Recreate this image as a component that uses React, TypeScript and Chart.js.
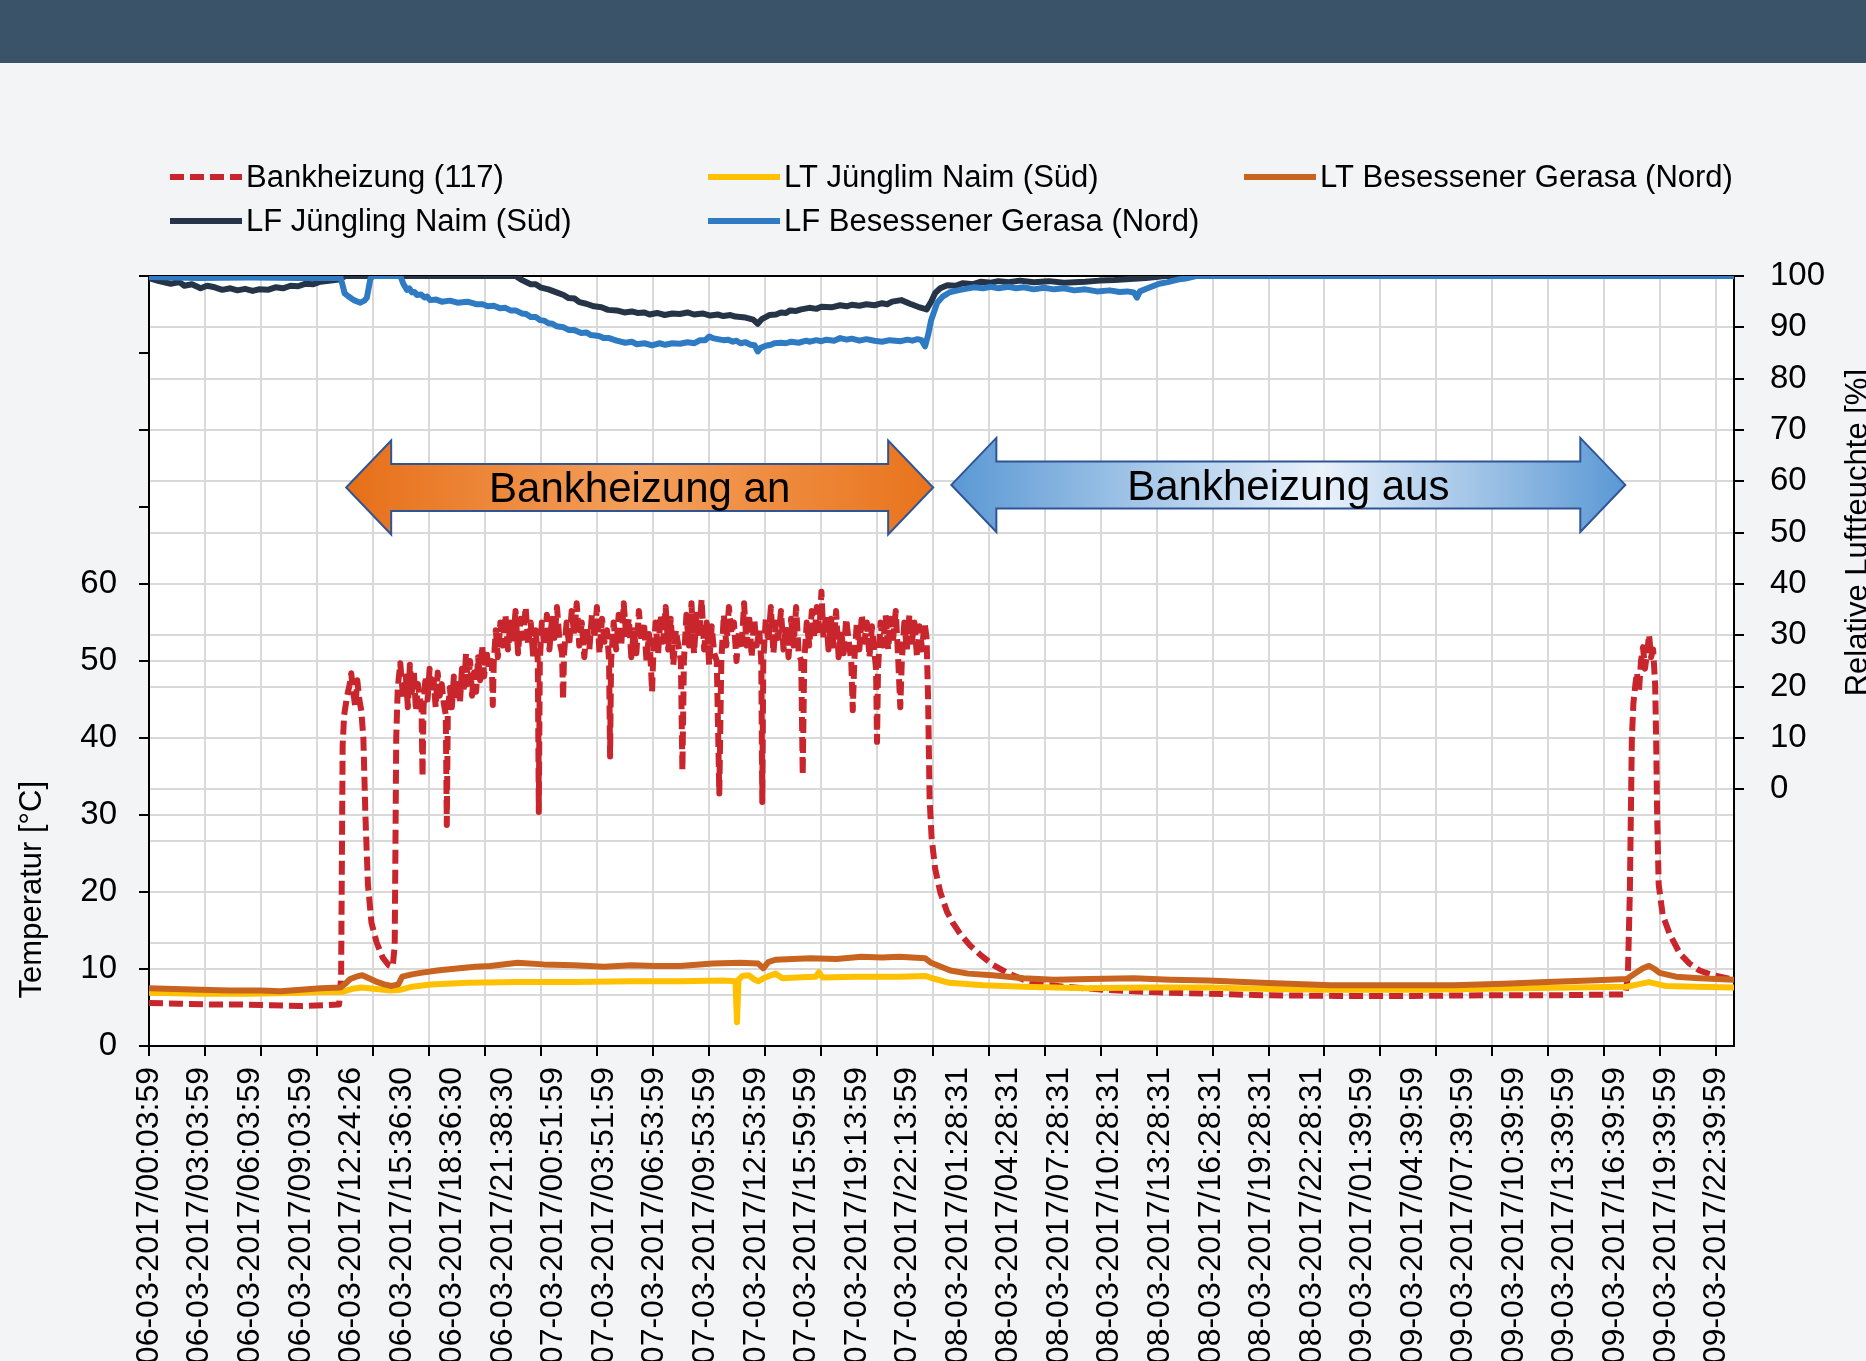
import React, { useEffect, useRef } from "react";
import { Chart, registerables } from "chart.js";

Chart.register(...registerables);

// ---------- DATA ----------
const xLabels = [
  "06-03-2017/00:03:59", "06-03-2017/03:03:59", "06-03-2017/06:03:59", "06-03-2017/09:03:59",
  "06-03-2017/12:24:26", "06-03-2017/15:36:30", "06-03-2017/18:36:30", "06-03-2017/21:38:30",
  "07-03-2017/00:51:59", "07-03-2017/03:51:59", "07-03-2017/06:53:59", "07-03-2017/09:53:59",
  "07-03-2017/12:53:59", "07-03-2017/15:59:59", "07-03-2017/19:13:59", "07-03-2017/22:13:59",
  "08-03-2017/01:28:31", "08-03-2017/04:28:31", "08-03-2017/07:28:31", "08-03-2017/10:28:31",
  "08-03-2017/13:28:31", "08-03-2017/16:28:31", "08-03-2017/19:28:31", "08-03-2017/22:28:31",
  "09-03-2017/01:39:59", "09-03-2017/04:39:59", "09-03-2017/07:39:59", "09-03-2017/10:39:59",
  "09-03-2017/13:39:59", "09-03-2017/16:39:59", "09-03-2017/19:39:59", "09-03-2017/22:39:59",
];
const gridLineCount = 29;
const xMax = 31.35;

const tempTickValues = [0, 10, 20, 30, 40, 50, 60, 70, 80, 90, 100];
const tempLabelMax = 60;
const rhTickValues = [-50, -40, -30, -20, -10, 0, 10, 20, 30, 40, 50, 60, 70, 80, 90, 100];
const rhLabelMin = 0;

const seriesNames = [
  "Bankheizung (117)",
  "LT Jünglim Naim (Süd)",
  "LT Besessener Gerasa (Nord)",
  "LF Jüngling Naim (Süd)",
  "LF Besessener Gerasa (Nord)",
];
const seriesColors = ["#c9252c", "#ffc000", "#c8641f", "#253447", "#2e7bc4"];

// Bankheizung (117) [x position in label units, °C]
const bankheizung: [number, number][] = [
  [0, 5.6], [0.6, 5.5], [1.2, 5.4], [1.8, 5.4], [2.4, 5.3], [3.0, 5.2], [3.5, 5.3], [3.76, 5.4],
  [3.8, 9], [3.83, 39], [3.86, 43], [3.92, 45.5], [3.97, 47], [4.0, 48.4], [4.04, 46], [4.08, 44],
  [4.12, 47.5], [4.16, 45], [4.2, 43.5], [4.24, 40], [4.28, 30], [4.33, 21], [4.4, 16], [4.5, 13.5],
  [4.62, 11.5], [4.74, 10.5], [4.82, 10.3], [4.86, 13], [4.89, 40], [4.92, 46.5],
  [4.97, 49.7], [5.03, 45], [5.08, 48], [5.12, 44], [5.16, 49.5], [5.2, 46], [5.24, 48.5], [5.28, 43.5],
  [5.32, 47], [5.36, 45], [5.39, 44], [5.41, 35], [5.43, 44], [5.47, 48], [5.51, 45], [5.55, 49],
  [5.59, 46], [5.63, 47.5], [5.67, 44], [5.71, 48.5], [5.75, 45.5], [5.79, 47], [5.83, 44.5], [5.87, 43],
  [5.89, 28.7], [5.91, 43], [5.95, 46.5], [5.99, 44], [6.03, 48], [6.07, 45], [6.11, 47.5], [6.15, 44.5],
  [6.19, 49], [6.23, 46], [6.27, 51], [6.31, 47], [6.35, 50], [6.39, 45.5], [6.43, 48.5], [6.47, 46],
  [6.51, 50.5], [6.55, 47.5], [6.59, 52], [6.63, 48], [6.67, 51.5], [6.72, 49], [6.78, 50], [6.8, 44.3],
  [6.82, 50], [6.86, 54], [6.9, 50.5], [6.95, 55],
  [7.0, 52], [7.05, 56], [7.1, 51.5], [7.15, 55], [7.2, 52.5], [7.25, 56.5], [7.3, 51], [7.35, 55.5],
  [7.4, 53], [7.45, 57], [7.5, 52], [7.55, 55], [7.6, 50.5], [7.65, 54], [7.69, 50], [7.71, 30.4],
  [7.73, 50], [7.77, 55], [7.82, 52], [7.87, 56], [7.92, 51.5], [7.97, 55.5], [8.02, 53], [8.07, 57],
  [8.12, 52.5], [8.17, 51], [8.19, 45], [8.21, 51], [8.26, 55], [8.31, 52], [8.36, 56.5], [8.41, 53.5],
  [8.46, 57.5], [8.51, 52], [8.56, 55], [8.61, 50.5], [8.66, 54.5], [8.71, 51.5], [8.76, 56], [8.81, 53],
  [8.86, 57], [8.91, 51], [8.96, 55.5], [9.01, 52.5], [9.06, 54], [9.1, 50], [9.12, 37.6], [9.14, 50],
  [9.19, 55], [9.24, 51.5], [9.29, 56], [9.34, 52], [9.39, 57.5], [9.44, 53], [9.49, 55.5], [9.54, 50.5],
  [9.59, 54], [9.64, 51], [9.69, 56.5], [9.74, 52.5], [9.79, 55], [9.84, 50], [9.89, 53.5], [9.93, 49],
  [9.95, 46], [9.97, 50], [10.02, 55], [10.07, 51], [10.12, 56], [10.17, 52.5], [10.22, 57], [10.27, 51.5],
  [10.32, 55.5], [10.37, 49.5], [10.42, 54], [10.47, 52], [10.52, 50], [10.55, 35.8], [10.58, 50], [10.63, 56],
  [10.68, 52], [10.73, 57.5], [10.78, 51], [10.83, 56], [10.88, 53], [10.93, 58], [10.98, 51.5], [11.03, 55],
  [11.08, 49.5], [11.13, 54.5], [11.18, 51], [11.23, 50], [11.28, 32.8], [11.32, 50], [11.37, 56], [11.42, 52],
  [11.47, 57], [11.52, 53.5], [11.57, 55], [11.62, 50], [11.67, 54], [11.72, 51.5], [11.77, 57.5], [11.82, 52],
  [11.87, 56], [11.92, 50.5], [11.97, 55.5], [12.02, 52], [12.07, 54], [12.11, 50], [12.13, 31.7], [12.15, 50],
  [12.2, 55.5], [12.25, 52.5], [12.3, 57], [12.35, 51], [12.4, 55], [12.45, 53], [12.5, 56.5], [12.55, 51.5],
  [12.6, 54.5], [12.65, 50.5], [12.7, 55.5], [12.75, 52], [12.8, 57], [12.85, 51], [12.9, 50], [12.93, 35.2],
  [12.96, 50], [13.01, 55], [13.06, 52], [13.11, 56.5], [13.16, 53], [13.21, 57], [13.26, 54], [13.3, 59],
  [13.34, 53], [13.39, 56], [13.44, 51.5], [13.49, 55.5], [13.54, 52], [13.59, 56.5], [13.64, 50.5], [13.69, 54],
  [13.74, 51], [13.79, 55.5], [13.84, 52.5], [13.89, 50], [13.92, 43.6], [13.95, 50], [14.0, 55], [14.05, 51.5],
  [14.1, 56], [14.15, 52.5], [14.2, 55], [14.25, 50.5], [14.3, 54.5], [14.35, 51], [14.38, 49], [14.4, 39.5],
  [14.42, 49], [14.47, 55], [14.52, 52], [14.57, 56], [14.62, 51.5], [14.67, 55.5], [14.72, 53], [14.77, 56.5],
  [14.82, 50], [14.86, 44], [14.89, 50], [14.94, 55], [14.99, 51.5], [15.04, 56], [15.09, 52.5], [15.14, 55],
  [15.19, 50.5], [15.24, 54.5], [15.29, 51.5], [15.34, 55], [15.38, 53],
  [15.41, 45], [15.44, 32], [15.48, 27], [15.55, 23], [15.65, 20], [15.78, 17.5], [15.9, 16], [16.05, 14.5],
  [16.25, 13], [16.45, 11.8], [16.7, 10.5], [17.0, 9.4], [17.3, 8.6], [17.7, 8.0], [18.1, 7.7], [18.9, 7.3],
  [19.8, 7.0], [20.9, 6.8], [22.0, 6.6], [23.5, 6.5], [25.0, 6.5], [26.5, 6.6], [28.0, 6.6], [29.2, 6.7],
  [29.25, 9], [29.29, 20], [29.33, 40], [29.36, 44.5], [29.4, 47], [29.43, 48.5], [29.47, 46], [29.51, 50],
  [29.55, 51.8], [29.59, 49], [29.63, 51], [29.67, 53.4], [29.71, 50.5], [29.75, 51.5], [29.79, 47], [29.81, 40],
  [29.83, 30], [29.86, 21], [29.94, 17], [30.08, 14.5], [30.28, 12], [30.47, 10.7], [30.67, 9.8], [30.93, 9.2],
  [31.35, 8.6],
];

// LT Jünglim Naim (Süd) [x, °C]
const ltSued: [number, number][] = [
  [0, 6.9], [1.0, 6.8], [2.0, 6.8], [2.96, 6.9], [3.4, 7.0], [3.81, 7.0], [4.0, 7.4], [4.2, 7.6],
  [4.5, 7.4], [4.77, 7.2], [4.97, 7.3], [5.2, 7.7], [5.57, 8.0], [6.3, 8.2], [7.29, 8.3], [8.4, 8.3],
  [9.54, 8.4], [10.5, 8.4], [11.36, 8.5], [11.6, 8.4], [11.63, 3.1], [11.66, 8.6], [11.74, 9.1], [11.86, 9.2],
  [11.96, 8.7], [12.05, 8.4], [12.19, 8.9], [12.39, 9.4], [12.53, 8.8], [12.8, 8.9], [13.19, 9.0], [13.25, 9.6],
  [13.32, 8.9], [14.0, 9.0], [14.84, 9.0], [15.35, 9.1], [15.55, 8.7], [15.83, 8.2], [16.5, 7.9], [17.3, 7.7],
  [18.52, 7.5], [19.7, 7.6], [20.95, 7.6], [22.2, 7.4], [23.38, 7.3], [25.2, 7.3], [27.06, 7.5], [28.2, 7.6],
  [29.23, 7.7], [29.45, 8.0], [29.67, 8.3], [29.99, 7.8], [30.6, 7.7], [31.35, 7.6],
];

// LT Besessener Gerasa (Nord) [x, °C]
const ltNord: [number, number][] = [
  [0, 7.5], [0.5, 7.4], [1.02, 7.3], [1.6, 7.2], [2.2, 7.2], [2.6, 7.1], [3.0, 7.3], [3.4, 7.5],
  [3.79, 7.6], [3.9, 8.2], [3.98, 8.7], [4.1, 9.0], [4.22, 9.2], [4.35, 8.8], [4.48, 8.4], [4.65, 8.0],
  [4.8, 7.8], [4.93, 8.0], [5.01, 9.0], [5.2, 9.3], [5.37, 9.5], [5.7, 9.8], [6.14, 10.1], [6.45, 10.3],
  [6.75, 10.4], [7.29, 10.8], [7.8, 10.6], [8.41, 10.5], [9.0, 10.3], [9.54, 10.5], [10.0, 10.4], [10.5, 10.4],
  [11.15, 10.7], [11.7, 10.8], [12.05, 10.7], [12.15, 10.1], [12.25, 10.9], [12.39, 11.2], [13.08, 11.4], [13.6, 11.3],
  [14.09, 11.6], [14.5, 11.5], [14.84, 11.6], [15.35, 11.4], [15.47, 10.8], [15.85, 9.8], [16.2, 9.4], [16.68, 9.2],
  [17.3, 8.8], [17.9, 8.6], [18.6, 8.7], [19.48, 8.8], [20.2, 8.6], [20.95, 8.5], [22.0, 8.2], [23.38, 7.9],
  [24.5, 7.9], [25.81, 7.9], [26.8, 8.1], [27.65, 8.3], [28.5, 8.5], [29.23, 8.7], [29.39, 9.4], [29.55, 10.1],
  [29.67, 10.4], [29.78, 10.0], [29.88, 9.5], [30.2, 9.0], [30.67, 8.8], [31.35, 8.6],
];

// LF Jüngling Naim (Süd) [x, %]
const lfSued: [number, number][] = [
  [0, 99.6], [0.2, 99.0], [0.43, 98.5], [0.6, 98.8], [0.7, 98.1], [0.85, 98.4], [1.02, 97.6], [1.15, 98.1],
  [1.3, 97.8], [1.45, 97.3], [1.61, 97.6], [1.75, 97.2], [1.9, 97.5], [2.05, 97.1], [2.17, 97.4], [2.35, 97.3],
  [2.5, 97.8], [2.65, 97.6], [2.8, 98.1], [2.95, 98.0], [3.1, 98.5], [3.25, 98.4], [3.39, 98.9], [3.6, 99.1],
  [3.75, 99.3], [3.88, 100], [7.25, 100], [7.38, 99.2], [7.55, 98.4], [7.65, 98.4], [7.74, 97.8], [7.9, 97.4],
  [8.06, 96.8], [8.2, 96.3], [8.3, 95.7], [8.42, 95.6], [8.51, 94.9], [8.65, 94.6], [8.8, 94.1], [8.95, 93.9],
  [9.08, 93.4], [9.25, 93.3], [9.4, 92.9], [9.55, 93.1], [9.66, 92.8], [9.8, 92.9], [9.9, 92.5], [10.05, 92.8],
  [10.2, 92.4], [10.35, 92.7], [10.5, 92.6], [10.65, 92.9], [10.78, 92.5], [10.95, 92.7], [11.1, 92.3], [11.25, 92.5],
  [11.36, 92.2], [11.5, 92.4], [11.6, 92.1], [11.8, 91.9], [11.95, 91.5], [12.04, 90.7], [12.12, 91.6], [12.27, 92.4],
  [12.4, 92.5], [12.5, 92.9], [12.6, 92.8], [12.68, 93.3], [12.8, 93.2], [12.9, 93.5], [13.06, 93.8], [13.2, 93.6],
  [13.3, 94.0], [13.5, 93.9], [13.67, 94.3], [13.8, 94.1], [13.9, 94.4], [14.05, 94.2], [14.19, 94.5], [14.35, 94.3],
  [14.5, 94.7], [14.6, 94.5], [14.7, 95.0], [14.88, 95.3], [15.05, 94.6], [15.21, 94.0], [15.38, 93.5], [15.47, 95.0],
  [15.55, 96.7], [15.65, 97.6], [15.79, 98.2], [15.95, 98.1], [16.1, 98.6], [16.3, 98.4], [16.46, 98.9], [16.65, 98.7],
  [16.8, 99.0], [17.0, 98.8], [17.23, 99.1], [17.5, 98.8], [17.8, 99.0], [18.1, 98.7], [18.52, 98.9], [18.8, 99.1],
  [19.1, 99.2], [19.4, 99.4], [19.72, 99.6], [20.1, 100], [31.35, 100],
];

// LF Besessener Gerasa (Nord) [x, %]
const lfNord: [number, number][] = [
  [0, 99.8], [1.0, 99.6], [2.0, 99.7], [3.0, 99.6], [3.79, 99.6], [3.83, 98.2], [3.87, 96.6], [3.95, 96.0],
  [4.05, 95.3], [4.18, 94.8], [4.26, 95.2], [4.31, 95.8], [4.38, 99.5], [4.44, 100], [4.97, 100], [5.03, 98.5],
  [5.1, 97.3], [5.15, 97.6], [5.2, 96.8], [5.25, 96.9], [5.3, 96.3], [5.38, 96.4], [5.45, 95.8], [5.5, 96.0],
  [5.56, 95.3], [5.68, 95.4], [5.79, 95.0], [5.95, 95.2], [6.1, 94.8], [6.3, 95.0], [6.47, 94.5], [6.6, 94.5],
  [6.7, 94.1], [6.82, 94.2], [6.95, 93.7], [7.05, 93.8], [7.15, 93.3], [7.25, 93.3], [7.38, 92.7], [7.46, 92.6],
  [7.55, 92.0], [7.65, 92.0], [7.74, 91.4], [7.82, 91.3], [7.9, 90.8], [7.98, 90.7], [8.06, 90.2], [8.2, 90.0],
  [8.3, 89.5], [8.4, 89.5], [8.55, 88.9], [8.65, 89.0], [8.74, 88.5], [8.9, 88.3], [9.0, 87.9], [9.1, 87.9],
  [9.25, 87.4], [9.42, 87.0], [9.55, 87.2], [9.65, 86.7], [9.8, 86.9], [9.95, 86.5], [10.1, 86.9], [10.21, 86.6],
  [10.35, 86.9], [10.5, 86.8], [10.65, 87.1], [10.79, 86.9], [10.9, 87.5], [11.0, 87.5], [11.08, 88.2], [11.15, 87.9],
  [11.25, 87.7], [11.36, 87.5], [11.45, 87.6], [11.55, 87.2], [11.62, 87.4], [11.7, 86.9], [11.8, 87.1], [11.9, 86.6],
  [11.98, 86.5], [12.04, 85.3], [12.1, 86.0], [12.2, 86.4], [12.3, 86.6], [12.37, 86.9], [12.5, 87.0], [12.6, 86.9],
  [12.7, 87.2], [12.85, 87.0], [13.0, 87.4], [13.06, 87.2], [13.2, 87.5], [13.3, 87.3], [13.4, 87.6], [13.55, 87.4],
  [13.67, 87.9], [13.8, 87.6], [13.9, 87.8], [14.05, 87.4], [14.19, 87.7], [14.35, 87.4], [14.5, 87.2], [14.65, 87.5],
  [14.87, 87.3], [15.0, 87.6], [15.1, 87.4], [15.2, 87.7], [15.28, 87.5], [15.35, 86.3], [15.41, 88.5], [15.47, 91.4],
  [15.59, 94.8], [15.7, 96.0], [15.83, 96.8], [16.0, 97.2], [16.15, 97.5], [16.32, 97.8], [16.5, 97.6], [16.65, 97.9],
  [16.8, 97.6], [17.0, 97.9], [17.15, 97.6], [17.3, 97.8], [17.5, 97.4], [17.7, 97.7], [17.9, 97.4], [18.1, 97.6],
  [18.3, 97.2], [18.52, 97.4], [18.75, 97.0], [19.0, 97.2], [19.2, 96.9], [19.35, 97.0], [19.48, 96.8], [19.54, 95.8],
  [19.6, 97.0], [19.75, 97.6], [19.98, 98.5], [20.15, 98.8], [20.35, 99.3], [20.5, 99.5], [20.71, 100], [31.35, 100],
];

// Annotation arrows (x in label units, y in % r.F.)
const arrowLabels = ["Bankheizung an", "Bankheizung aus"];
const arrowFromX = [3.9, 15.87];
const arrowToX = [15.51, 29.2];
const arrowAtRH = [58.8, 59.3];

// ---------- STYLE ----------
const FONT = "'Liberation Sans', Arial, Helvetica, sans-serif";
const GRID = "#d9d9d9";
const legendCols = [170, 708, 1244];
const legendRows = [177, 221];
const legendSlots = [[0, 0], [1, 0], [2, 0], [0, 1], [1, 1]];

export default function App() {
  const ref = useRef<HTMLCanvasElement>(null);

  useEffect(() => {
    document.body.style.margin = "0";
    const canvas = ref.current;
    if (!canvas) return;
    Chart.defaults.font.family = FONT;
    Chart.defaults.color = "#000";

    const toPts = (a: [number, number][]) => a.map(([x, y]) => ({ x, y }));
    const series = [bankheizung, ltSued, ltNord, lfSued, lfNord];
    const datasets = series.map((s, i) => ({
      label: seriesNames[i],
      data: toPts(s),
      xAxisID: "x",
      yAxisID: i < 3 ? "yT" : "yRH",
      borderColor: seriesColors[i],
      backgroundColor: seriesColors[i],
      borderWidth: 6,
      borderDash: i === 0 ? [14, 6] : [],
      borderJoinStyle: "round" as const,
      pointRadius: 0,
      tension: 0,
      fill: false,
      order: 5 - i,
    }));

    const overlay = {
      id: "overlay",
      beforeDraw(chart: any) {
        const { ctx, chartArea: a } = chart;
        ctx.save();
        ctx.fillStyle = "#ffffff";
        ctx.fillRect(a.left, a.top, a.right - a.left, a.bottom - a.top);
        ctx.restore();
      },
      beforeDatasetsDraw(chart: any) {
        const { ctx, chartArea: a } = chart;
        ctx.save();
        ctx.strokeStyle = "#000";
        ctx.lineWidth = 2;
        ctx.beginPath();
        ctx.moveTo(a.left - 1, a.top);
        ctx.lineTo(a.right + 1, a.top);
        ctx.stroke();
        ctx.restore();
      },
      afterDraw(chart: any) {
        const { ctx } = chart;
        const xs = chart.scales.x;
        const yr = chart.scales.yRH;
        const yt = chart.scales.yT;

        // arrows
        arrowLabels.forEach((txt, i) => {
          const x0 = xs.getPixelForValue(arrowFromX[i]);
          const x1 = xs.getPixelForValue(arrowToX[i]);
          const yc = yr.getPixelForValue(arrowAtRH[i]);
          const hl = 45, hh = 47, sh = 23.5;
          ctx.save();
          ctx.beginPath();
          ctx.moveTo(x0, yc);
          ctx.lineTo(x0 + hl, yc - hh);
          ctx.lineTo(x0 + hl, yc - sh);
          ctx.lineTo(x1 - hl, yc - sh);
          ctx.lineTo(x1 - hl, yc - hh);
          ctx.lineTo(x1, yc);
          ctx.lineTo(x1 - hl, yc + hh);
          ctx.lineTo(x1 - hl, yc + sh);
          ctx.lineTo(x0 + hl, yc + sh);
          ctx.lineTo(x0 + hl, yc + hh);
          ctx.closePath();
          const g = ctx.createLinearGradient(x0, 0, x1, 0);
          if (i === 0) {
            g.addColorStop(0, "#e66f18");
            g.addColorStop(0.5, "#f4a05c");
            g.addColorStop(1, "#e8731c");
          } else {
            g.addColorStop(0, "#5a98d4");
            g.addColorStop(0.55, "#eaf2fb");
            g.addColorStop(1, "#5a98d4");
          }
          ctx.fillStyle = g;
          ctx.fill();
          ctx.strokeStyle = "#2f5597";
          ctx.lineWidth = 2;
          ctx.stroke();
          ctx.fillStyle = "#000";
          ctx.font = `42px ${FONT}`;
          ctx.textAlign = "center";
          ctx.textBaseline = "alphabetic";
          ctx.fillText(txt, (x0 + x1) / 2, yc + 15);
          ctx.restore();
        });

        // legend
        ctx.save();
        ctx.font = `31px ${FONT}`;
        ctx.textAlign = "left";
        ctx.textBaseline = "middle";
        chart.data.datasets.forEach((ds: any, i: number) => {
          const [c, r] = legendSlots[i];
          const x = legendCols[c];
          const y = legendRows[r];
          ctx.save();
          ctx.strokeStyle = ds.borderColor;
          ctx.lineWidth = 6;
          ctx.setLineDash(ds.borderDash || []);
          ctx.beginPath();
          ctx.moveTo(x, y);
          ctx.lineTo(x + 72, y);
          ctx.stroke();
          ctx.restore();
          ctx.fillStyle = "#000";
          ctx.fillText(ds.label, x + 76, y + 1);
        });
        ctx.restore();

        // axis titles
        ctx.save();
        ctx.font = `31px ${FONT}`;
        ctx.fillStyle = "#000";
        ctx.textAlign = "center";
        ctx.textBaseline = "middle";
        ctx.translate(32, yt.getPixelForValue(20.3));
        ctx.rotate(-Math.PI / 2);
        ctx.fillText("Temperatur [°C]", 0, 0);
        ctx.restore();

        ctx.save();
        ctx.font = `31px ${FONT}`;
        ctx.fillStyle = "#000";
        ctx.textAlign = "center";
        ctx.textBaseline = "middle";
        ctx.translate(1858, yr.getPixelForValue(50));
        ctx.rotate(-Math.PI / 2);
        ctx.fillText("Relative Luftfeuchte [%]", 0, 0);
        ctx.restore();
      },
    };

    const chart = new Chart(canvas, {
      type: "line",
      data: { datasets: datasets as any },
      options: {
        animation: false,
        responsive: false,
        devicePixelRatio: 1,
        layout: { padding: { top: 276, left: 0, right: 0, bottom: 0 } },
        plugins: { legend: { display: false }, tooltip: { enabled: false }, title: { display: false } },
        scales: {
          x: {
            type: "linear",
            position: "bottom",
            min: 0,
            max: xMax,
            weight: 1,
            afterBuildTicks: (s: any) => {
              s.ticks = xLabels.map((_, i) => ({ value: i }));
            },
            afterFit: (s: any) => {
              s.height = 305;
            },
            grid: { display: false, drawTicks: false },
            border: { display: false },
            ticks: {
              autoSkip: false,
              minRotation: 90,
              maxRotation: 90,
              padding: 11,
              color: "#000",
              font: { size: 32, family: FONT },
              callback: (_v: any, i: number) => xLabels[i],
            },
          },
          xg: {
            type: "linear",
            position: "bottom",
            min: 0,
            max: xMax,
            weight: 0,
            afterBuildTicks: (s: any) => {
              const n = gridLineCount - 1;
              const span = xLabels.length - 1;
              s.ticks = Array.from({ length: gridLineCount }, (_, k) => ({ value: (k * span) / n }));
            },
            afterFit: (s: any) => {
              s.height = 10;
            },
            grid: { color: GRID, lineWidth: 2, tickColor: "#000", tickLength: 10, tickWidth: 2 },
            border: { display: true, color: "#000", width: 2 },
            ticks: { display: false },
          },
          yT: {
            type: "linear",
            position: "left",
            min: 0,
            max: 100,
            afterBuildTicks: (s: any) => {
              s.ticks = tempTickValues.map((v) => ({ value: v }));
            },
            afterFit: (s: any) => {
              s.width = 149;
            },
            grid: {
              color: (c: any) => (c.tick && c.tick.value <= tempLabelMax ? GRID : "rgba(0,0,0,0)"),
              lineWidth: 2,
              tickColor: "#000",
              tickLength: 10,
              tickWidth: 2,
            },
            border: { display: true, color: "#000", width: 2 },
            ticks: {
              padding: 22,
              color: "#000",
              font: { size: 33, family: FONT },
              callback: (v: any) => (v <= tempLabelMax ? String(v) : ""),
            },
          },
          yRH: {
            type: "linear",
            position: "right",
            min: -50,
            max: 100,
            afterBuildTicks: (s: any) => {
              s.ticks = rhTickValues.map((v) => ({ value: v }));
            },
            afterFit: (s: any) => {
              s.width = 132;
            },
            grid: {
              color: GRID,
              lineWidth: 2,
              tickColor: (c: any) => (c.tick && c.tick.value >= rhLabelMin ? "#000" : "rgba(0,0,0,0)"),
              tickLength: 10,
              tickWidth: 2,
            },
            border: { display: true, color: "#000", width: 2 },
            ticks: {
              padding: 26,
              color: "#000",
              font: { size: 33, family: FONT },
              callback: (v: any) => (v >= rhLabelMin ? String(v) : ""),
            },
          },
        },
      } as any,
      plugins: [overlay],
    });

    return () => {
      chart.destroy();
    };
  }, []);

  return (
    <div
      style={{
        position: "fixed",
        left: 0,
        top: 0,
        width: 1866,
        height: 1361,
        overflow: "hidden",
        background: "#f2f4f5",
      }}
    >
      <div style={{ position: "absolute", left: 0, top: 0, width: "100%", height: 63, background: "#3b5368" }} />
      <canvas
        ref={ref}
        width={1866}
        height={1361}
        style={{ position: "absolute", left: 0, top: 0, width: 1866, height: 1361 }}
      />
    </div>
  );
}
